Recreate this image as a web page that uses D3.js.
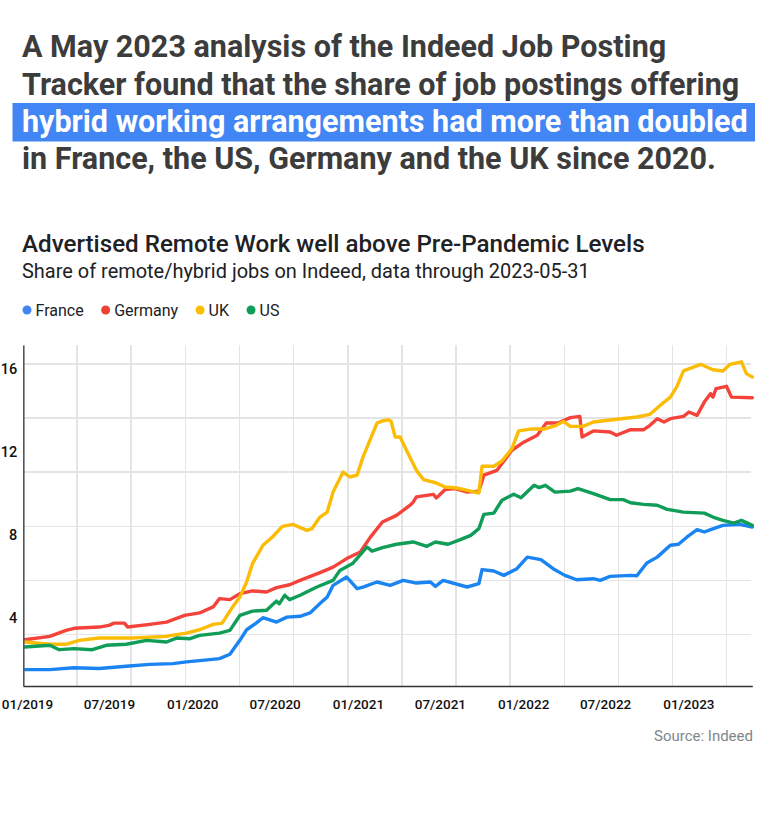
<!DOCTYPE html>
<html lang="en">
<head>
<meta charset="utf-8">
<title>remote work share</title>
<script src="https://cdn.jsdelivr.net/npm/d3@7"></script>
<style>
  body { margin: 0; background: #fff; font-family: Roboto, "Noto Sans", sans-serif; }
  .grid line { stroke: #e4e4e4; stroke-width: 1.6; shape-rendering: crispEdges; }
  .series { fill: none; stroke-width: 3.4; stroke-linejoin: round; stroke-linecap: round; }
</style>
</head>
<body>
<script>
// headline, line 3 is the highlighted one
var headline = [
  "A May 2023 analysis of the Indeed Job Posting",
  "Tracker found that the share of job postings offering",
  "hybrid working arrangements had more than doubled",
  "in France, the US, Germany and the UK since 2020."
];
var chartTitle = "Advertised Remote Work well above Pre-Pandemic Levels";
var chartSubtitle = "Share of remote/hybrid jobs on Indeed, data through 2023-05-31";
var sourceText = "Source: Indeed";

var countries = ["France", "Germany", "UK", "US"];
var colors = ["#1a85f2", "#f4433a", "#fbbc05", "#0f9d58"];
var legendColors = ["#4285f4", "#ea4335", "#fbbc04", "#0f9d58"];

var yTicks = [4, 8, 12, 16];
var xTicks = ["2019-01-01", "2019-07-01", "2020-01-01", "2020-07-01", "2021-01-01",
              "2021-07-01", "2022-01-01", "2022-07-01", "2023-01-01"];

var france = [
  ["2019-01-05", 1.53], ["2019-03-01", 1.53], ["2019-04-24", 1.62], ["2019-06-18", 1.58],
  ["2019-08-17", 1.69], ["2019-10-08", 1.78], ["2019-11-28", 1.82], ["2019-12-28", 1.9],
  ["2020-02-18", 2.01], ["2020-03-10", 2.06], ["2020-04-02", 2.27], ["2020-04-24", 2.94],
  ["2020-05-09", 3.45], ["2020-05-30", 3.77], ["2020-06-14", 4.03], ["2020-07-14", 3.82],
  ["2020-08-06", 4.06], ["2020-09-04", 4.1], ["2020-09-26", 4.26], ["2020-10-18", 4.71],
  ["2020-11-03", 5.03], ["2020-11-16", 5.59], ["2020-12-16", 5.99], ["2021-01-08", 5.43],
  ["2021-01-21", 5.5], ["2021-02-21", 5.75], ["2021-03-22", 5.59], ["2021-04-20", 5.83],
  ["2021-05-19", 5.7], ["2021-06-19", 5.75], ["2021-06-30", 5.54], ["2021-07-17", 5.83],
  ["2021-09-08", 5.51], ["2021-10-04", 5.67], ["2021-10-11", 6.35], ["2021-11-06", 6.28],
  ["2021-11-28", 6.07], ["2021-12-27", 6.39], ["2022-01-19", 6.95], ["2022-02-18", 6.83],
  ["2022-03-17", 6.39], ["2022-04-12", 6.07], ["2022-05-08", 5.86], ["2022-06-14", 5.91],
  ["2022-06-29", 5.83], ["2022-07-21", 6.02], ["2022-09-04", 6.07], ["2022-09-18", 6.05],
  ["2022-10-10", 6.67], ["2022-11-02", 6.95], ["2022-12-01", 7.52], ["2022-12-19", 7.57],
  ["2023-01-07", 7.92], ["2023-01-29", 8.27], ["2023-02-14", 8.16], ["2023-02-28", 8.27],
  ["2023-03-27", 8.48], ["2023-05-03", 8.53], ["2023-05-31", 8.4]
];

var germany = [
  ["2019-01-05", 2.97], ["2019-03-01", 3.13], ["2019-04-06", 3.42], ["2019-04-24", 3.52],
  ["2019-06-18", 3.58], ["2019-07-10", 3.66], ["2019-07-21", 3.77], ["2019-08-13", 3.77],
  ["2019-08-20", 3.58], ["2019-10-08", 3.71], ["2019-11-14", 3.82], ["2019-12-24", 4.14],
  ["2020-01-26", 4.26], ["2020-02-25", 4.55], ["2020-03-10", 4.95], ["2020-04-02", 4.9],
  ["2020-04-24", 5.19], ["2020-05-22", 5.32], ["2020-06-22", 5.27], ["2020-07-14", 5.48],
  ["2020-08-12", 5.62], ["2020-09-04", 5.83], ["2020-10-18", 6.2], ["2020-11-16", 6.47],
  ["2020-12-16", 6.88], ["2021-01-15", 7.2], ["2021-02-06", 7.9], ["2021-03-05", 8.64],
  ["2021-04-05", 8.96], ["2021-05-05", 9.45], ["2021-05-12", 9.6], ["2021-05-19", 9.85],
  ["2021-06-26", 9.97], ["2021-07-02", 9.8], ["2021-07-21", 10.2], ["2021-08-13", 10.25],
  ["2021-09-08", 10.08], ["2021-10-04", 10.13], ["2021-10-15", 10.9], ["2021-11-13", 11.13],
  ["2021-12-16", 12.1], ["2022-01-12", 12.5], ["2022-02-10", 12.82], ["2022-03-02", 13.41],
  ["2022-03-28", 13.41], ["2022-04-24", 13.67], ["2022-05-15", 13.73], ["2022-05-20", 12.74],
  ["2022-06-14", 13.03], ["2022-07-21", 12.98], ["2022-08-04", 12.82], ["2022-09-04", 13.09],
  ["2022-10-03", 13.09], ["2022-10-17", 13.3], ["2022-11-02", 13.62], ["2022-11-17", 13.46],
  ["2022-12-01", 13.62], ["2022-12-30", 13.73], ["2023-01-11", 13.94], ["2023-01-29", 13.78],
  ["2023-02-14", 14.42], ["2023-02-28", 14.83], ["2023-03-05", 14.66], ["2023-03-12", 15.07],
  ["2023-04-04", 15.18], ["2023-04-15", 14.66], ["2023-05-31", 14.63]
];

var uk = [
  ["2019-01-05", 2.86], ["2019-03-01", 2.75], ["2019-04-06", 2.75], ["2019-05-05", 2.94],
  ["2019-06-18", 3.05], ["2019-08-30", 3.05], ["2019-11-14", 3.13], ["2019-11-25", 3.18],
  ["2019-12-28", 3.29], ["2020-01-26", 3.45], ["2020-02-25", 3.71], ["2020-03-16", 3.77],
  ["2020-04-08", 4.55], ["2020-04-24", 5.03], ["2020-05-09", 5.75], ["2020-05-22", 6.64],
  ["2020-06-14", 7.52], ["2020-07-05", 7.92], ["2020-07-27", 8.43], ["2020-08-19", 8.53],
  ["2020-09-19", 8.24], ["2020-09-30", 8.32], ["2020-10-18", 8.88], ["2020-11-03", 9.12],
  ["2020-11-16", 10.09], ["2020-12-08", 11.05], ["2020-12-23", 10.81], ["2021-01-08", 10.9],
  ["2021-01-21", 11.77], ["2021-02-21", 13.41], ["2021-03-05", 13.51], ["2021-03-18", 13.57],
  ["2021-03-24", 13.5], ["2021-04-02", 12.74], ["2021-04-13", 12.74], ["2021-04-27", 12.1],
  ["2021-05-19", 11.13], ["2021-06-04", 10.68], ["2021-07-02", 10.52], ["2021-07-21", 10.33],
  ["2021-08-16", 10.28], ["2021-09-16", 10.13], ["2021-10-04", 10.04], ["2021-10-11", 11.33],
  ["2021-11-06", 11.33], ["2021-11-24", 11.58], ["2021-12-16", 12.18], ["2021-12-31", 13.03],
  ["2022-01-26", 13.12], ["2022-02-25", 13.12], ["2022-03-24", 13.3], ["2022-04-09", 13.49],
  ["2022-04-24", 13.25], ["2022-05-22", 13.25], ["2022-06-14", 13.46], ["2022-08-05", 13.59],
  ["2022-09-18", 13.7], ["2022-10-17", 13.83], ["2022-11-09", 14.27], ["2022-12-01", 14.66],
  ["2022-12-15", 15.15], ["2022-12-30", 15.92], ["2023-02-06", 16.24], ["2023-03-05", 15.98],
  ["2023-03-27", 15.92], ["2023-04-12", 16.24], ["2023-05-07", 16.36], ["2023-05-18", 15.79],
  ["2023-05-31", 15.63]
];

var us = [
  ["2019-01-05", 2.62], ["2019-03-01", 2.7], ["2019-03-22", 2.49], ["2019-04-24", 2.54],
  ["2019-06-03", 2.49], ["2019-07-04", 2.7], ["2019-08-17", 2.75], ["2019-10-01", 2.94],
  ["2019-11-14", 2.86], ["2019-12-06", 3.05], ["2020-01-05", 3.02], ["2020-01-26", 3.18],
  ["2020-03-10", 3.29], ["2020-04-02", 3.42], ["2020-04-24", 4.14], ["2020-05-22", 4.35],
  ["2020-06-22", 4.39], ["2020-07-14", 4.83], ["2020-07-20", 4.7], ["2020-08-01", 5.11],
  ["2020-08-12", 4.9], ["2020-09-04", 5.11], ["2020-10-11", 5.51], ["2020-11-16", 5.83],
  ["2020-12-01", 6.31], ["2020-12-29", 6.64], ["2021-01-30", 7.44], ["2021-02-10", 7.24],
  ["2021-03-05", 7.41], ["2021-04-05", 7.57], ["2021-05-12", 7.68], ["2021-06-11", 7.47],
  ["2021-06-30", 7.68], ["2021-07-28", 7.57], ["2021-08-24", 7.79], ["2021-09-16", 8.0],
  ["2021-10-04", 8.32], ["2021-10-15", 9.01], ["2021-11-06", 9.07], ["2021-11-24", 9.69],
  ["2021-12-20", 9.98], ["2022-01-05", 9.81], ["2022-02-03", 10.41], ["2022-02-14", 10.3],
  ["2022-02-28", 10.41], ["2022-03-21", 10.08], ["2022-04-24", 10.13], ["2022-05-11", 10.25],
  ["2022-06-14", 10.01], ["2022-07-21", 9.72], ["2022-08-19", 9.72], ["2022-09-04", 9.57],
  ["2022-10-03", 9.49], ["2022-11-02", 9.45], ["2022-11-24", 9.25], ["2022-12-30", 9.12],
  ["2023-02-14", 9.07], ["2023-03-05", 8.88], ["2023-03-27", 8.72], ["2023-04-20", 8.59],
  ["2023-05-07", 8.72], ["2023-05-31", 8.48]
];

var seriesList = [france, germany, uk, us];

var w = 768, h = 820;
var plot = { left: 23, right: 752, top: 345, bottom: 686 };
var cell = 54.13;   // background grid is a plain square grid
var parse = d3.timeParse("%Y-%m-%d");

var svg = d3.select("body").append("svg")
  .attr("width", w)
  .attr("height", h);

// fit a text element to a target width
function fit(sel, target) {
  var size = parseFloat(sel.style("font-size"));
  var len = sel.node().getComputedTextLength();
  sel.style("font-size", (size * target / len) + "px");
}

// headline
var head = svg.append("g");
var baselines = [57, 95, 132, 169];
headline.forEach(function(t, i) {
  if (i == 2) {
    head.append("rect")
      .attr("x", 12.5).attr("y", 103)
      .attr("width", 742.5).attr("height", 38.5)
      .attr("fill", "#4285f4");
  }
  head.append("text")
    .attr("class", "headline")
    .attr("x", 22)
    .attr("y", baselines[i])
    .attr("fill", i == 2 ? "#ffffff" : "#3c3c3c")
    .style("font-size", "27px")
    .style("font-weight", 700)
    .text(t);
});
// size the block by the longest line
var longest = head.selectAll("text.headline").filter(function(d, i) { return i == 2; });
fit(longest, 726);
var hs = longest.style("font-size");
head.selectAll("text.headline").style("font-size", hs);

var t1 = svg.append("text")
  .attr("x", 22).attr("y", 252)
  .attr("fill", "#202124")
  .style("font-size", "21px")
  .style("font-weight", 500)
  .text(chartTitle);
fit(t1, 623);

var t2 = svg.append("text")
  .attr("x", 22).attr("y", 278)
  .attr("fill", "#202124")
  .style("font-size", "16px")
  .text(chartSubtitle);
fit(t2, 568);

// legend
var lx = 27;
countries.forEach(function(c, i) {
  svg.append("circle")
    .attr("cx", lx).attr("cy", 310)
    .attr("r", 4.5)
    .attr("fill", legendColors[i]);
  var lt = svg.append("text")
    .attr("x", lx + 8.5).attr("y", 315.5)
    .attr("fill", "#202124")
    .style("font-size", "16px")
    .text(c);
  lx = lx + 8.5 + lt.node().getComputedTextLength() + 22;
});

var x = d3.scaleTime()
  .domain([parse("2019-01-01"), parse("2023-05-31")])
  .range([plot.left, 752.3]);

var y = d3.scaleLinear()
  .domain([0.74, 17.17])
  .range([plot.bottom, plot.top]);

// grid
var grid = svg.append("g").attr("class", "grid");
grid.selectAll(".v")
  .data(d3.range(plot.left + cell, plot.right, cell))
  .enter().append("line")
  .attr("x1", function(d) { return d; })
  .attr("x2", function(d) { return d; })
  .attr("y1", plot.top)
  .attr("y2", plot.bottom);
grid.selectAll(".h")
  .data(d3.range(364, plot.bottom - 20, cell))
  .enter().append("line")
  .attr("x1", plot.left)
  .attr("x2", plot.right - 1)
  .attr("y1", function(d) { return d; })
  .attr("y2", function(d) { return d; });

// lines
var line = d3.line()
  .x(function(d) { return x(parse(d[0])); })
  .y(function(d) { return y(d[1]); });

svg.selectAll(".series")
  .data(seriesList)
  .enter()
  .append("path")
  .attr("class", "series")
  .attr("stroke", function(d, i) { return colors[i]; })
  .attr("d", line);

// axes
var xAxis = svg.append("g")
  .attr("transform", "translate(0," + plot.bottom + ")")
  .call(d3.axisBottom(x)
    .tickValues(xTicks.map(parse))
    .tickFormat(d3.timeFormat("%m/%Y"))
    .tickSize(0)
    .tickPadding(13));
xAxis.select(".domain").attr("stroke", "#333").attr("stroke-width", 1.6);
xAxis.selectAll("text")
  .attr("dx", 4)
  .attr("fill", "#111")
  .style("font-family", "Roboto, sans-serif")
  .style("font-size", "13.5px")
  .style("font-weight", 500);

var yAxis = svg.append("g")
  .attr("transform", "translate(" + (plot.left + 0.3) + ",0)")
  .call(d3.axisLeft(y)
    .tickValues(yTicks)
    .tickSize(0)
    .tickPadding(6));
yAxis.select(".domain").attr("stroke", "#555").attr("stroke-width", 1.6);
yAxis.selectAll("text")
  .attr("fill", "#111")
  .style("font-family", "Roboto, sans-serif")
  .style("font-size", "14.5px")
  .style("font-weight", 500);

svg.append("text")
  .attr("x", 753).attr("y", 741)
  .attr("text-anchor", "end")
  .attr("fill", "#80868b")
  .style("font-size", "15px")
  .text(sourceText);
</script>
</body>
</html>
